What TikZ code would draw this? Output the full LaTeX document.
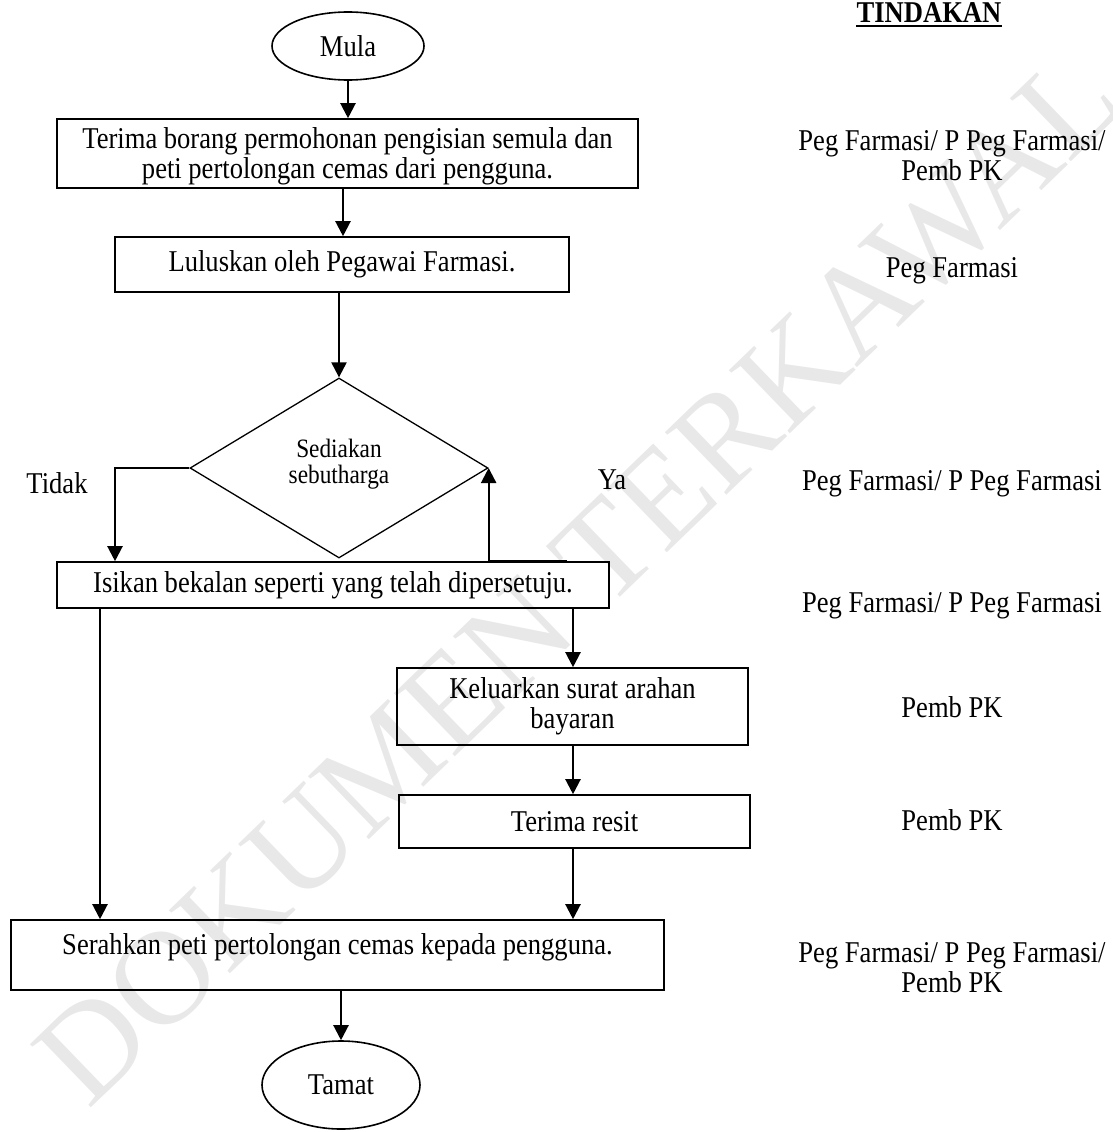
\documentclass[tikz,border=0pt]{standalone}
\usepackage{fontspec}
\setmainfont[FakeStretch=0.88]{Liberation Serif}
\newfontfamily\wmfont{Liberation Serif}
\usetikzlibrary{shapes.geometric,arrows.meta}
\newcommand\bigtxt{\fontsize{30.2}{30}\selectfont}
\newcommand\smtxt{\fontsize{26.5}{26}\selectfont}
\begin{document}
\begin{tikzpicture}[x=1pt,y=-1pt,
  box/.style={draw,line width=1.6pt,rectangle,inner sep=0pt,font=\bigtxt,align=center},
  term/.style={draw,line width=1.6pt,ellipse,inner sep=0pt,font=\bigtxt},
  decide/.style={draw,line width=1.3pt,diamond,inner sep=0pt,font=\smtxt,align=center},
  arr/.style={line width=2.2pt,-{Triangle[width=15pt,length=15pt]}},
  lab/.style={font=\bigtxt,anchor=base,inner sep=0pt},
  side/.style={font=\bigtxt,inner sep=0pt}]
\useasboundingbox (0,0) rectangle (1113,1132);
% watermark
\node[rotate=44,font=\wmfont\fontsize{134}{134}\selectfont,text=black!9,inner sep=0pt] (wm) at (578,578) {DOKUMEN TERKAWAL};

% flow nodes
\node[term,minimum width=152pt,minimum height=68pt] (mula) at (348,46) {Mula};
\node[box,minimum width=581pt,minimum height=69pt] (b1) at (347.5,153.5) {\rule{0pt}{26pt}Terima borang permohonan pengisian semula dan\\peti pertolongan cemas dari pengguna.};
\node[box,minimum width=454pt,minimum height=55pt] (b2) at (342,264.5) {Luluskan oleh Pegawai Farmasi.};
\node[decide,minimum width=298pt,minimum height=180pt] (d) at (339,468) {Sediakan\\sebutharga\rule[-14pt]{0pt}{14pt}};
\node[box,minimum width=552pt,minimum height=46pt] (b3) at (333,585) {Isikan bekalan seperti yang telah dipersetuju.};
\node[box,minimum width=351pt,minimum height=77pt] (b4) at (572.5,706.5) {Keluarkan surat arahan\\bayaran};
\node[box,minimum width=351pt,minimum height=53pt] (b5) at (574.5,821.5) {Terima resit};
\node[box,minimum width=653pt,minimum height=70pt,text height=22pt,text depth=24pt] (b6) at (337.5,955) {Serahkan peti pertolongan cemas kepada pengguna.};
\node[term,minimum width=158pt,minimum height=88pt] (tamat) at (341,1085) {Tamat};

% helper columns
\coordinate (cA) at (343,0);
\coordinate (cL) at (100,0);
\coordinate (cR) at (573,0);
\coordinate (cT) at (115,0);
\coordinate (cY) at (567,0);

% connectors
\draw[arr] (mula.south) -- (mula.south |- b1.north);
\draw[arr] (cA |- b1.south) -- (cA |- b2.north);
\draw[arr] (d.north |- b2.south) -- (d.north);
\draw[arr] (d.west) -| (cT |- b3.north);
\draw[arr] (cY |- b3.north) -| (d.east);
\draw[arr] (cL |- b3.south) -- (cL |- b6.north);
\draw[arr] (cR |- b3.south) -- (cR |- b4.north);
\draw[arr] (cR |- b4.south) -- (cR |- b5.north);
\draw[arr] (cR |- b5.south) -- (cR |- b6.north);
\draw[arr] (tamat.north |- b6.south) -- (tamat.north);

% branch labels
\node[side] (tidak) at (57,483) {Tidak};
\node[side] (ya) at (612,480) {Ya};

% right column
\node[lab,font=\bigtxt\bfseries] (tind) at (929,22.5) {TINDAKAN};
\draw[line width=2.8pt] ([yshift=-3.5pt]tind.base west) -- ([yshift=-3.5pt]tind.base east);
\node[lab] (r1a) at (952,150) {Peg Farmasi/ P Peg Farmasi/};
\node[lab] (r1b) at (952,180) {Pemb PK};
\node[lab] (r2) at (952,277) {Peg Farmasi};
\node[lab] (r3) at (952,490) {Peg Farmasi/ P Peg Farmasi};
\node[lab] (r4) at (952,612) {Peg Farmasi/ P Peg Farmasi};
\node[lab] (r5) at (952,717) {Pemb PK};
\node[lab] (r6) at (952,830) {Pemb PK};
\node[lab] (r7a) at (952,962) {Peg Farmasi/ P Peg Farmasi/};
\node[lab] (r7b) at (952,992) {Pemb PK};
\end{tikzpicture}
\end{document}
